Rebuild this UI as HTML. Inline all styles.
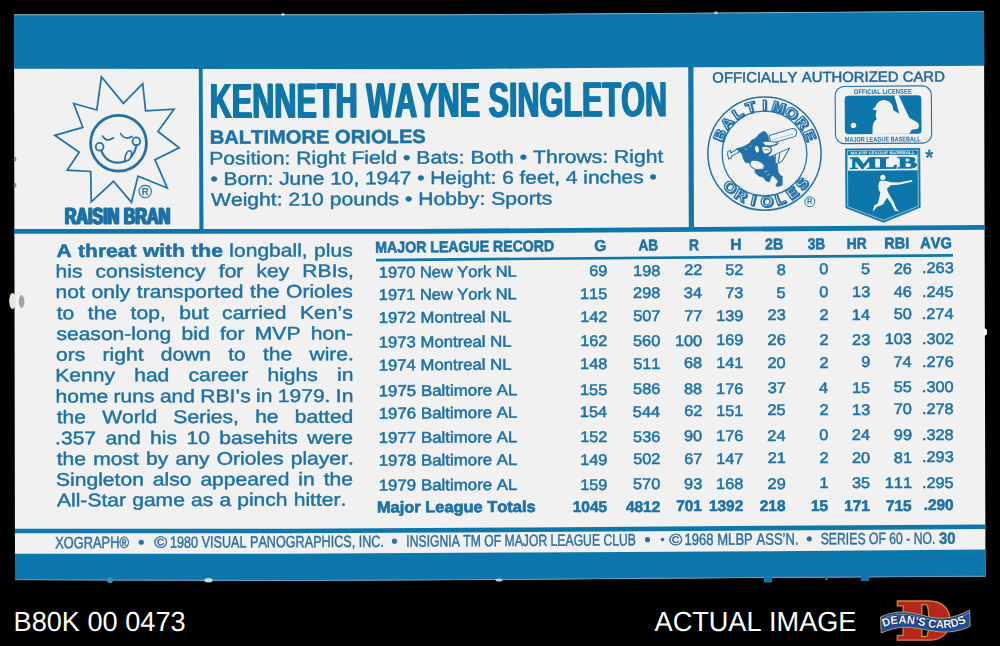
<!DOCTYPE html>
<html><head><meta charset="utf-8"><title>1980 Kellogg's Ken Singleton</title>
<style>
html,body{margin:0;padding:0;background:#000;}
body{width:1000px;height:646px;overflow:hidden;position:relative;font-family:"Liberation Sans",sans-serif;}
svg{position:absolute;left:0;top:0;display:block;}
svg text{font-family:"Liberation Sans",sans-serif;white-space:pre;font-kerning:none;text-rendering:geometricPrecision;}
</style></head><body>
<svg width="1000" height="646" viewBox="0 0 1000 646">
<defs><filter id="soft" x="0" y="0" width="1000" height="646" filterUnits="userSpaceOnUse"><feGaussianBlur stdDeviation="0.5"/></filter></defs>
<g fill="#1f72a8" filter="url(#soft)">
<polygon points="14.00,14.50 450.00,14.50 984.00,11.00 985.50,576.50 770.00,577.70 530.00,579.60 300.00,580.80 15.00,580.00" fill="#f1f1f2"/>
<polygon points="14.00,14.50 450.00,14.50 984.00,11.00 984.30,65.80 690.00,67.30 550.00,68.20 450.00,69.30 14.00,68.80" fill="#0f76ab"/>
<polygon points="14.00,229.00 420.00,229.00 985.00,225.00 985.00,229.80 420.00,233.80 14.00,233.80" fill="#0f76ab"/>
<polygon points="198.80,68.00 202.60,68.00 203.50,231.00 199.40,231.00" fill="#0f76ab"/>
<polygon points="688.20,66.50 693.40,66.50 694.00,230.00 688.80,230.00" fill="#0f76ab"/>
<polygon points="15.00,528.70 290.00,528.70 530.00,527.45 770.00,525.80 985.30,524.45 985.30,529.05 770.00,530.40 530.00,532.05 290.00,533.30 15.00,533.30" fill="#0f76ab"/>
<polygon points="15.00,553.75 280.00,553.75 530.00,552.50 770.00,551.25 985.40,549.50 985.50,576.50 770.00,577.70 530.00,579.60 300.00,580.80 15.00,580.00" fill="#0f76ab"/>
<polyline points="14.0,14.8 450.0,14.8 984.0,11.3" fill="none" stroke="#9cc6e0" stroke-width="0.8" opacity="0.8"/>
<polyline points="15.0,579.7 300.0,580.5 530.0,579.3 770.0,577.4 985.5,576.2" fill="none" stroke="#8dbbd8" stroke-width="0.8" opacity="0.7"/>
<circle cx="110" cy="580.3" r="3" fill="#3d8fc2"/>
<ellipse cx="208.5" cy="580.2" rx="4.2" ry="2.2" fill="#c8dbe6"/>
<ellipse cx="499" cy="580" rx="3.5" ry="1.5" fill="#b5cfdf"/>
<rect x="764" y="577" width="8" height="5.5" fill="#0f76ab"/>
<rect x="861" y="576" width="8" height="5" fill="#0f76ab"/>
<rect x="825" y="577" width="3" height="3" fill="#0f76ab"/>
<ellipse cx="283" cy="14.4" rx="1.6" ry="1.2" fill="#e8e4e0"/>
<ellipse cx="716" cy="12.8" rx="1.8" ry="1.4" fill="#e6c9c4"/>
<ellipse cx="12.6" cy="301" rx="3.4" ry="8" fill="#ece7dc"/>
<ellipse cx="21.6" cy="301.5" rx="2.8" ry="6.5" fill="#a3a3a1"/>
<ellipse cx="15" cy="159.2" rx="1.3" ry="2.4" fill="#8c8c8c"/>
<ellipse cx="15" cy="185.2" rx="1.3" ry="2.2" fill="#8c8c8c"/>
<ellipse cx="985.2" cy="332" rx="1.8" ry="3.5" fill="#fbfbf3"/>
<text transform="translate(208.95 118.00) rotate(-0.227) scale(0.6195 1)" font-size="49.42" font-weight="bold" fill="#0f76ab">KENNETH WAYNE SINGLETON</text>
<text transform="translate(209.75 118.00) rotate(-0.227) scale(0.6195 1)" font-size="49.42" font-weight="bold" fill="#0f76ab">KENNETH WAYNE SINGLETON</text>
<text transform="translate(210.55 118.00) rotate(-0.227) scale(0.6195 1)" font-size="49.42" font-weight="bold" fill="#0f76ab">KENNETH WAYNE SINGLETON</text>
<text transform="translate(209.65 143.75) rotate(-0.201) scale(1.0507 1)" font-size="19.19" font-weight="bold" stroke="#1f72a8" stroke-width="0.5">BALTIMORE ORIOLES</text>
<text transform="translate(209.27 164.50) rotate(-0.241) scale(1.1640 1)" font-size="18.17" stroke="#1f72a8" stroke-width="0.45">Position: Right Field • Bats: Both • Throws: Right</text>
<text transform="translate(210.42 185.00) rotate(-0.245) scale(1.1489 1)" font-size="18.17" stroke="#1f72a8" stroke-width="0.45">• Born: June 10, 1947 • Height: 6 feet, 4 inches •</text>
<text transform="translate(210.91 205.75) rotate(-0.210) scale(1.1651 1)" font-size="18.17" stroke="#1f72a8" stroke-width="0.45">Weight: 210 pounds • Hobby: Sports</text>
<text transform="translate(63.92 224.00) rotate(0.000) scale(0.6924 1)" font-size="23.26" font-weight="bold" stroke="#1f72a8" stroke-width="0.6">RAISIN BRAN</text>
<text transform="translate(64.72 224.00) rotate(0.000) scale(0.6924 1)" font-size="23.26" font-weight="bold" stroke="#1f72a8" stroke-width="0.6">RAISIN BRAN</text>
<text transform="translate(65.52 224.00) rotate(0.000) scale(0.6924 1)" font-size="23.26" font-weight="bold" stroke="#1f72a8" stroke-width="0.6">RAISIN BRAN</text>
<text transform="translate(712.29 82.50) rotate(-0.248) scale(1.0154 1)" font-size="14.68" fill="#22679d" stroke="#22679d" stroke-width="0.5">OFFICIALLY AUTHORIZED CARD</text>
<text transform="translate(56.48 257.00) rotate(-0.117) scale(1.1600 1)" font-size="18.17" stroke="#1f72a8" stroke-width="0.5" font-weight="bold">A</text>
<text transform="translate(78.01 256.96) rotate(-0.117) scale(1.1600 1)" font-size="18.17" stroke="#1f72a8" stroke-width="0.5" font-weight="bold">threat</text>
<text transform="translate(142.88 256.83) rotate(-0.117) scale(1.1600 1)" font-size="18.17" stroke="#1f72a8" stroke-width="0.5" font-weight="bold">with</text>
<text transform="translate(191.34 256.73) rotate(-0.117) scale(1.1600 1)" font-size="18.17" stroke="#1f72a8" stroke-width="0.5" font-weight="bold">the</text>
<text transform="translate(229.27 256.65) rotate(-0.117) scale(1.1600 1)" font-size="18.17" stroke="#1f72a8" stroke-width="0.45">longball,</text>
<text transform="translate(314.10 256.48) rotate(-0.117) scale(1.1600 1)" font-size="18.17" stroke="#1f72a8" stroke-width="0.45">plus</text>
<text transform="translate(55.54 277.50) rotate(-0.117) scale(1.1600 1)" font-size="18.17" stroke="#1f72a8" stroke-width="0.45">his</text>
<text transform="translate(95.58 277.42) rotate(-0.117) scale(1.1600 1)" font-size="18.17" stroke="#1f72a8" stroke-width="0.45">consistency</text>
<text transform="translate(218.78 277.17) rotate(-0.117) scale(1.1600 1)" font-size="18.17" stroke="#1f72a8" stroke-width="0.45">for</text>
<text transform="translate(256.47 277.09) rotate(-0.117) scale(1.1600 1)" font-size="18.17" stroke="#1f72a8" stroke-width="0.45">key</text>
<text transform="translate(302.37 277.00) rotate(-0.117) scale(1.1600 1)" font-size="18.17" stroke="#1f72a8" stroke-width="0.45">RBIs,</text>
<text transform="translate(55.60 298.00) rotate(-0.117) scale(1.1600 1)" font-size="18.17" stroke="#1f72a8" stroke-width="0.45">not</text>
<text transform="translate(91.53 297.93) rotate(-0.117) scale(1.1600 1)" font-size="18.17" stroke="#1f72a8" stroke-width="0.45">only</text>
<text transform="translate(136.83 297.84) rotate(-0.117) scale(1.1600 1)" font-size="18.17" stroke="#1f72a8" stroke-width="0.45">transported</text>
<text transform="translate(250.07 297.61) rotate(-0.117) scale(1.1600 1)" font-size="18.17" stroke="#1f72a8" stroke-width="0.45">the</text>
<text transform="translate(286.01 297.53) rotate(-0.117) scale(1.1600 1)" font-size="18.17" stroke="#1f72a8" stroke-width="0.45">Orioles</text>
<text transform="translate(56.68 319.25) rotate(-0.117) scale(1.1600 1)" font-size="18.17" stroke="#1f72a8" stroke-width="0.45">to</text>
<text transform="translate(87.78 319.19) rotate(-0.117) scale(1.1600 1)" font-size="18.17" stroke="#1f72a8" stroke-width="0.45">the</text>
<text transform="translate(130.60 319.10) rotate(-0.117) scale(1.1600 1)" font-size="18.17" stroke="#1f72a8" stroke-width="0.45">top,</text>
<text transform="translate(179.28 319.00) rotate(-0.117) scale(1.1600 1)" font-size="18.17" stroke="#1f72a8" stroke-width="0.45">but</text>
<text transform="translate(222.10 318.91) rotate(-0.117) scale(1.1600 1)" font-size="18.17" stroke="#1f72a8" stroke-width="0.45">carried</text>
<text transform="translate(300.04 318.76) rotate(-0.117) scale(1.1600 1)" font-size="18.17" stroke="#1f72a8" stroke-width="0.45">Ken’s</text>
<text transform="translate(56.41 340.00) rotate(-0.117) scale(1.1600 1)" font-size="18.17" stroke="#1f72a8" stroke-width="0.45">season-long</text>
<text transform="translate(181.52 339.75) rotate(-0.117) scale(1.1600 1)" font-size="18.17" stroke="#1f72a8" stroke-width="0.45">bid</text>
<text transform="translate(219.93 339.67) rotate(-0.117) scale(1.1600 1)" font-size="18.17" stroke="#1f72a8" stroke-width="0.45">for</text>
<text transform="translate(254.80 339.60) rotate(-0.117) scale(1.1600 1)" font-size="18.17" stroke="#1f72a8" stroke-width="0.45">MVP</text>
<text transform="translate(310.75 339.48) rotate(-0.117) scale(1.1600 1)" font-size="18.17" stroke="#1f72a8" stroke-width="0.45">hon-</text>
<text transform="translate(56.11 360.75) rotate(-0.117) scale(1.1600 1)" font-size="18.17" stroke="#1f72a8" stroke-width="0.45">ors</text>
<text transform="translate(102.55 360.66) rotate(-0.117) scale(1.1600 1)" font-size="18.17" stroke="#1f72a8" stroke-width="0.45">right</text>
<text transform="translate(160.70 360.54) rotate(-0.117) scale(1.1600 1)" font-size="18.17" stroke="#1f72a8" stroke-width="0.45">down</text>
<text transform="translate(228.24 360.40) rotate(-0.117) scale(1.1600 1)" font-size="18.17" stroke="#1f72a8" stroke-width="0.45">to</text>
<text transform="translate(262.97 360.33) rotate(-0.117) scale(1.1600 1)" font-size="18.17" stroke="#1f72a8" stroke-width="0.45">the</text>
<text transform="translate(309.43 360.24) rotate(-0.117) scale(1.1600 1)" font-size="18.17" stroke="#1f72a8" stroke-width="0.45">wire.</text>
<text transform="translate(55.27 381.40) rotate(-0.117) scale(1.1600 1)" font-size="18.17" stroke="#1f72a8" stroke-width="0.45">Kenny</text>
<text transform="translate(134.19 381.24) rotate(-0.117) scale(1.1600 1)" font-size="18.17" stroke="#1f72a8" stroke-width="0.45">had</text>
<text transform="translate(188.52 381.13) rotate(-0.117) scale(1.1600 1)" font-size="18.17" stroke="#1f72a8" stroke-width="0.45">career</text>
<text transform="translate(267.42 380.97) rotate(-0.117) scale(1.1600 1)" font-size="18.17" stroke="#1f72a8" stroke-width="0.45">highs</text>
<text transform="translate(336.97 380.83) rotate(-0.117) scale(1.1600 1)" font-size="18.17" stroke="#1f72a8" stroke-width="0.45">in</text>
<text transform="translate(55.54 402.50) rotate(-0.117) scale(1.1600 1)" font-size="18.17" stroke="#1f72a8" stroke-width="0.45">home</text>
<text transform="translate(113.57 402.38) rotate(-0.117) scale(1.1600 1)" font-size="18.17" stroke="#1f72a8" stroke-width="0.45">runs</text>
<text transform="translate(159.88 402.29) rotate(-0.117) scale(1.1600 1)" font-size="18.17" stroke="#1f72a8" stroke-width="0.45">and</text>
<text transform="translate(200.36 402.21) rotate(-0.117) scale(1.1600 1)" font-size="18.17" stroke="#1f72a8" stroke-width="0.45">RBI’s</text>
<text transform="translate(256.02 402.10) rotate(-0.117) scale(1.1600 1)" font-size="18.17" stroke="#1f72a8" stroke-width="0.45">in</text>
<text transform="translate(277.74 402.05) rotate(-0.117) scale(1.1600 1)" font-size="18.17" stroke="#1f72a8" stroke-width="0.45">1979.</text>
<text transform="translate(335.79 401.93) rotate(-0.117) scale(1.1600 1)" font-size="18.17" stroke="#1f72a8" stroke-width="0.45">In</text>
<text transform="translate(56.68 423.25) rotate(-0.117) scale(1.1600 1)" font-size="18.17" stroke="#1f72a8" stroke-width="0.45">the</text>
<text transform="translate(102.16 423.16) rotate(-0.117) scale(1.1600 1)" font-size="18.17" stroke="#1f72a8" stroke-width="0.45">World</text>
<text transform="translate(173.37 423.01) rotate(-0.117) scale(1.1600 1)" font-size="18.17" stroke="#1f72a8" stroke-width="0.45">Series,</text>
<text transform="translate(255.14 422.85) rotate(-0.117) scale(1.1600 1)" font-size="18.17" stroke="#1f72a8" stroke-width="0.45">he</text>
<text transform="translate(294.76 422.77) rotate(-0.117) scale(1.1600 1)" font-size="18.17" stroke="#1f72a8" stroke-width="0.45">batted</text>
<text transform="translate(55.08 444.25) rotate(-0.117) scale(1.1600 1)" font-size="18.17" stroke="#1f72a8" stroke-width="0.45">.357</text>
<text transform="translate(105.52 444.15) rotate(-0.117) scale(1.1600 1)" font-size="18.17" stroke="#1f72a8" stroke-width="0.45">and</text>
<text transform="translate(150.10 444.06) rotate(-0.117) scale(1.1600 1)" font-size="18.17" stroke="#1f72a8" stroke-width="0.45">his</text>
<text transform="translate(186.47 443.99) rotate(-0.117) scale(1.1600 1)" font-size="18.17" stroke="#1f72a8" stroke-width="0.45">10</text>
<text transform="translate(219.33 443.92) rotate(-0.117) scale(1.1600 1)" font-size="18.17" stroke="#1f72a8" stroke-width="0.45">basehits</text>
<text transform="translate(307.26 443.74) rotate(-0.117) scale(1.1600 1)" font-size="18.17" stroke="#1f72a8" stroke-width="0.45">were</text>
<text transform="translate(56.68 465.00) rotate(-0.117) scale(1.1600 1)" font-size="18.17" stroke="#1f72a8" stroke-width="0.45">the</text>
<text transform="translate(93.18 464.93) rotate(-0.117) scale(1.1600 1)" font-size="18.17" stroke="#1f72a8" stroke-width="0.45">most</text>
<text transform="translate(146.06 464.82) rotate(-0.117) scale(1.1600 1)" font-size="18.17" stroke="#1f72a8" stroke-width="0.45">by</text>
<text transform="translate(175.52 464.76) rotate(-0.117) scale(1.1600 1)" font-size="18.17" stroke="#1f72a8" stroke-width="0.45">any</text>
<text transform="translate(216.71 464.68) rotate(-0.117) scale(1.1600 1)" font-size="18.17" stroke="#1f72a8" stroke-width="0.45">Orioles</text>
<text transform="translate(290.67 464.52) rotate(-0.117) scale(1.1600 1)" font-size="18.17" stroke="#1f72a8" stroke-width="0.45">player.</text>
<text transform="translate(56.04 485.75) rotate(-0.117) scale(1.1600 1)" font-size="18.17" stroke="#1f72a8" stroke-width="0.45">Singleton</text>
<text transform="translate(152.82 485.56) rotate(-0.117) scale(1.1600 1)" font-size="18.17" stroke="#1f72a8" stroke-width="0.45">also</text>
<text transform="translate(200.38 485.46) rotate(-0.117) scale(1.1600 1)" font-size="18.17" stroke="#1f72a8" stroke-width="0.45">appeared</text>
<text transform="translate(298.34 485.26) rotate(-0.117) scale(1.1600 1)" font-size="18.17" stroke="#1f72a8" stroke-width="0.45">in</text>
<text transform="translate(323.64 485.21) rotate(-0.117) scale(1.1600 1)" font-size="18.17" stroke="#1f72a8" stroke-width="0.45">the</text>
<text transform="translate(56.96 506.25) rotate(-0.117) scale(1.1600 1)" font-size="18.17" stroke="#1f72a8" stroke-width="0.45">All-Star</text>
<text transform="translate(132.17 506.10) rotate(-0.117) scale(1.1600 1)" font-size="18.17" stroke="#1f72a8" stroke-width="0.45">game</text>
<text transform="translate(191.00 505.98) rotate(-0.117) scale(1.1600 1)" font-size="18.17" stroke="#1f72a8" stroke-width="0.45">as</text>
<text transform="translate(219.38 505.92) rotate(-0.117) scale(1.1600 1)" font-size="18.17" stroke="#1f72a8" stroke-width="0.45">a</text>
<text transform="translate(237.22 505.88) rotate(-0.117) scale(1.1600 1)" font-size="18.17" stroke="#1f72a8" stroke-width="0.45">pinch</text>
<text transform="translate(293.71 505.77) rotate(-0.117) scale(1.1600 1)" font-size="18.17" stroke="#1f72a8" stroke-width="0.45">hitter.</text>
<text transform="translate(375.35 252.70) rotate(-0.461) scale(0.9001 1)" font-size="15.70" font-weight="bold" stroke="#1f72a8" stroke-width="0.65">MAJOR LEAGUE RECORD</text>
<text transform="translate(594.36 250.94) rotate(-0.461) scale(0.9912 1)" font-size="15.70" font-weight="bold" stroke="#1f72a8" stroke-width="0.6">G</text>
<text transform="translate(638.41 250.59) rotate(-0.461) scale(0.8693 1)" font-size="15.70" font-weight="bold" stroke="#1f72a8" stroke-width="0.6">AB</text>
<text transform="translate(689.08 250.17) rotate(-0.461) scale(0.8781 1)" font-size="15.70" font-weight="bold" stroke="#1f72a8" stroke-width="0.6">R</text>
<text transform="translate(730.20 249.84) rotate(-0.461) scale(1.0023 1)" font-size="15.70" font-weight="bold" stroke="#1f72a8" stroke-width="0.6">H</text>
<text transform="translate(765.00 249.57) rotate(-0.461) scale(0.9144 1)" font-size="15.70" font-weight="bold" stroke="#1f72a8" stroke-width="0.6">2B</text>
<text transform="translate(807.68 249.22) rotate(-0.461) scale(0.8792 1)" font-size="15.70" font-weight="bold" stroke="#1f72a8" stroke-width="0.6">3B</text>
<text transform="translate(846.77 248.90) rotate(-0.461) scale(0.8826 1)" font-size="15.70" font-weight="bold" stroke="#1f72a8" stroke-width="0.6">HR</text>
<text transform="translate(884.33 248.60) rotate(-0.461) scale(0.9265 1)" font-size="15.70" font-weight="bold" stroke="#1f72a8" stroke-width="0.6">RBI</text>
<text transform="translate(920.13 248.32) rotate(-0.461) scale(0.9341 1)" font-size="15.70" font-weight="bold" stroke="#1f72a8" stroke-width="0.6">AVG</text>
<polygon points="376.00,258.70 953.00,254.00 953.00,256.75 376.00,261.40" fill="#0f76ab"/>
<text transform="translate(378.75 277.80) rotate(-0.471) scale(1.0478 1)" font-size="15.70" stroke="#1f72a8" stroke-width="0.55">1970 New York NL</text>
<text transform="translate(589.21 276.07) rotate(0.000) scale(1.0600 1)" font-size="15.41" stroke="#1f72a8" stroke-width="0.55">69</text>
<text transform="translate(633.06 275.71) rotate(0.000) scale(1.0600 1)" font-size="15.41" stroke="#1f72a8" stroke-width="0.55">198</text>
<text transform="translate(684.16 275.29) rotate(0.000) scale(1.0600 1)" font-size="15.41" stroke="#1f72a8" stroke-width="0.55">22</text>
<text transform="translate(725.26 274.96) rotate(0.000) scale(1.0600 1)" font-size="15.41" stroke="#1f72a8" stroke-width="0.55">52</text>
<text transform="translate(776.63 274.54) rotate(0.000) scale(1.0600 1)" font-size="15.41" stroke="#1f72a8" stroke-width="0.55">8</text>
<text transform="translate(819.26 274.19) rotate(0.000) scale(1.0600 1)" font-size="15.41" stroke="#1f72a8" stroke-width="0.55">0</text>
<text transform="translate(861.10 273.84) rotate(0.000) scale(1.0600 1)" font-size="15.41" stroke="#1f72a8" stroke-width="0.55">5</text>
<text transform="translate(893.75 273.57) rotate(0.000) scale(1.0600 1)" font-size="15.41" stroke="#1f72a8" stroke-width="0.55">26</text>
<text transform="translate(921.93 273.34) rotate(0.000) scale(1.0600 1)" font-size="15.41" stroke="#1f72a8" stroke-width="0.55">.263</text>
<text transform="translate(378.75 300.00) rotate(-0.358) scale(1.0478 1)" font-size="15.70" stroke="#1f72a8" stroke-width="0.55">1971 New York NL</text>
<text transform="translate(580.04 298.74) rotate(0.000) scale(1.0600 1)" font-size="15.41" stroke="#1f72a8" stroke-width="0.55">115</text>
<text transform="translate(633.06 298.41) rotate(0.000) scale(1.0600 1)" font-size="15.41" stroke="#1f72a8" stroke-width="0.55">298</text>
<text transform="translate(683.81 298.10) rotate(0.000) scale(1.0600 1)" font-size="15.41" stroke="#1f72a8" stroke-width="0.55">34</text>
<text transform="translate(725.15 297.84) rotate(0.000) scale(1.0600 1)" font-size="15.41" stroke="#1f72a8" stroke-width="0.55">73</text>
<text transform="translate(776.60 297.52) rotate(0.000) scale(1.0600 1)" font-size="15.41" stroke="#1f72a8" stroke-width="0.55">5</text>
<text transform="translate(819.26 297.25) rotate(0.000) scale(1.0600 1)" font-size="15.41" stroke="#1f72a8" stroke-width="0.55">0</text>
<text transform="translate(852.05 297.04) rotate(0.000) scale(1.0600 1)" font-size="15.41" stroke="#1f72a8" stroke-width="0.55">13</text>
<text transform="translate(893.75 296.79) rotate(0.000) scale(1.0600 1)" font-size="15.41" stroke="#1f72a8" stroke-width="0.55">46</text>
<text transform="translate(921.90 296.60) rotate(0.000) scale(1.0600 1)" font-size="15.41" stroke="#1f72a8" stroke-width="0.55">.245</text>
<text transform="translate(378.73 323.00) rotate(-0.409) scale(1.0645 1)" font-size="15.70" stroke="#1f72a8" stroke-width="0.55">1972 Montreal NL</text>
<text transform="translate(580.17 321.56) rotate(0.000) scale(1.0600 1)" font-size="15.41" stroke="#1f72a8" stroke-width="0.55">142</text>
<text transform="translate(633.17 321.19) rotate(0.000) scale(1.0600 1)" font-size="15.41" stroke="#1f72a8" stroke-width="0.55">507</text>
<text transform="translate(684.16 320.82) rotate(0.000) scale(1.0600 1)" font-size="15.41" stroke="#1f72a8" stroke-width="0.55">77</text>
<text transform="translate(716.13 320.59) rotate(0.000) scale(1.0600 1)" font-size="15.41" stroke="#1f72a8" stroke-width="0.55">139</text>
<text transform="translate(767.55 320.23) rotate(0.000) scale(1.0600 1)" font-size="15.41" stroke="#1f72a8" stroke-width="0.55">23</text>
<text transform="translate(819.44 319.86) rotate(0.000) scale(1.0600 1)" font-size="15.41" stroke="#1f72a8" stroke-width="0.55">2</text>
<text transform="translate(851.81 319.62) rotate(0.000) scale(1.0600 1)" font-size="15.41" stroke="#1f72a8" stroke-width="0.55">14</text>
<text transform="translate(893.67 319.33) rotate(0.000) scale(1.0600 1)" font-size="15.41" stroke="#1f72a8" stroke-width="0.55">50</text>
<text transform="translate(921.69 319.12) rotate(0.000) scale(1.0600 1)" font-size="15.41" stroke="#1f72a8" stroke-width="0.55">.274</text>
<text transform="translate(378.73 347.50) rotate(-0.348) scale(1.0645 1)" font-size="15.70" stroke="#1f72a8" stroke-width="0.55">1973 Montreal NL</text>
<text transform="translate(580.17 346.28) rotate(0.000) scale(1.0600 1)" font-size="15.41" stroke="#1f72a8" stroke-width="0.55">162</text>
<text transform="translate(632.99 345.96) rotate(0.000) scale(1.0600 1)" font-size="15.41" stroke="#1f72a8" stroke-width="0.55">560</text>
<text transform="translate(674.89 345.70) rotate(0.000) scale(1.0600 1)" font-size="15.41" stroke="#1f72a8" stroke-width="0.55">100</text>
<text transform="translate(716.13 345.45) rotate(0.000) scale(1.0600 1)" font-size="15.41" stroke="#1f72a8" stroke-width="0.55">169</text>
<text transform="translate(767.55 345.14) rotate(0.000) scale(1.0600 1)" font-size="15.41" stroke="#1f72a8" stroke-width="0.55">26</text>
<text transform="translate(819.44 344.83) rotate(0.000) scale(1.0600 1)" font-size="15.41" stroke="#1f72a8" stroke-width="0.55">2</text>
<text transform="translate(852.05 344.63) rotate(0.000) scale(1.0600 1)" font-size="15.41" stroke="#1f72a8" stroke-width="0.55">23</text>
<text transform="translate(884.67 344.43) rotate(0.000) scale(1.0600 1)" font-size="15.41" stroke="#1f72a8" stroke-width="0.55">103</text>
<text transform="translate(922.04 344.20) rotate(0.000) scale(1.0600 1)" font-size="15.41" stroke="#1f72a8" stroke-width="0.55">.302</text>
<text transform="translate(378.73 370.50) rotate(-0.389) scale(1.0645 1)" font-size="15.70" stroke="#1f72a8" stroke-width="0.55">1974 Montreal NL</text>
<text transform="translate(580.06 369.13) rotate(0.000) scale(1.0600 1)" font-size="15.41" stroke="#1f72a8" stroke-width="0.55">148</text>
<text transform="translate(633.15 368.78) rotate(0.000) scale(1.0600 1)" font-size="15.41" stroke="#1f72a8" stroke-width="0.55">511</text>
<text transform="translate(684.04 368.43) rotate(0.000) scale(1.0600 1)" font-size="15.41" stroke="#1f72a8" stroke-width="0.55">68</text>
<text transform="translate(716.15 368.21) rotate(0.000) scale(1.0600 1)" font-size="15.41" stroke="#1f72a8" stroke-width="0.55">141</text>
<text transform="translate(767.47 367.87) rotate(0.000) scale(1.0600 1)" font-size="15.41" stroke="#1f72a8" stroke-width="0.55">20</text>
<text transform="translate(819.44 367.51) rotate(0.000) scale(1.0600 1)" font-size="15.41" stroke="#1f72a8" stroke-width="0.55">2</text>
<text transform="translate(861.19 367.23) rotate(0.000) scale(1.0600 1)" font-size="15.41" stroke="#1f72a8" stroke-width="0.55">9</text>
<text transform="translate(893.51 367.01) rotate(0.000) scale(1.0600 1)" font-size="15.41" stroke="#1f72a8" stroke-width="0.55">74</text>
<text transform="translate(921.93 366.81) rotate(0.000) scale(1.0600 1)" font-size="15.41" stroke="#1f72a8" stroke-width="0.55">.276</text>
<text transform="translate(378.71 396.25) rotate(-0.435) scale(1.0751 1)" font-size="15.70" stroke="#1f72a8" stroke-width="0.55">1975 Baltimore AL</text>
<text transform="translate(580.04 394.72) rotate(0.000) scale(1.0600 1)" font-size="15.41" stroke="#1f72a8" stroke-width="0.55">155</text>
<text transform="translate(633.07 394.32) rotate(0.000) scale(1.0600 1)" font-size="15.41" stroke="#1f72a8" stroke-width="0.55">586</text>
<text transform="translate(684.04 393.94) rotate(0.000) scale(1.0600 1)" font-size="15.41" stroke="#1f72a8" stroke-width="0.55">88</text>
<text transform="translate(716.07 393.69) rotate(0.000) scale(1.0600 1)" font-size="15.41" stroke="#1f72a8" stroke-width="0.55">176</text>
<text transform="translate(767.66 393.30) rotate(0.000) scale(1.0600 1)" font-size="15.41" stroke="#1f72a8" stroke-width="0.55">37</text>
<text transform="translate(819.10 392.91) rotate(0.000) scale(1.0600 1)" font-size="15.41" stroke="#1f72a8" stroke-width="0.55">4</text>
<text transform="translate(852.02 392.66) rotate(0.000) scale(1.0600 1)" font-size="15.41" stroke="#1f72a8" stroke-width="0.55">15</text>
<text transform="translate(893.72 392.35) rotate(0.000) scale(1.0600 1)" font-size="15.41" stroke="#1f72a8" stroke-width="0.55">55</text>
<text transform="translate(921.85 392.13) rotate(0.000) scale(1.0600 1)" font-size="15.41" stroke="#1f72a8" stroke-width="0.55">.300</text>
<text transform="translate(378.71 418.75) rotate(-0.496) scale(1.0751 1)" font-size="15.70" stroke="#1f72a8" stroke-width="0.55">1976 Baltimore AL</text>
<text transform="translate(579.83 417.01) rotate(0.000) scale(1.0600 1)" font-size="15.41" stroke="#1f72a8" stroke-width="0.55">154</text>
<text transform="translate(632.83 416.55) rotate(0.000) scale(1.0600 1)" font-size="15.41" stroke="#1f72a8" stroke-width="0.55">544</text>
<text transform="translate(684.16 416.11) rotate(0.000) scale(1.0600 1)" font-size="15.41" stroke="#1f72a8" stroke-width="0.55">62</text>
<text transform="translate(716.15 415.83) rotate(0.000) scale(1.0600 1)" font-size="15.41" stroke="#1f72a8" stroke-width="0.55">151</text>
<text transform="translate(767.52 415.39) rotate(0.000) scale(1.0600 1)" font-size="15.41" stroke="#1f72a8" stroke-width="0.55">25</text>
<text transform="translate(819.44 414.94) rotate(0.000) scale(1.0600 1)" font-size="15.41" stroke="#1f72a8" stroke-width="0.55">2</text>
<text transform="translate(852.05 414.65) rotate(0.000) scale(1.0600 1)" font-size="15.41" stroke="#1f72a8" stroke-width="0.55">13</text>
<text transform="translate(893.67 414.29) rotate(0.000) scale(1.0600 1)" font-size="15.41" stroke="#1f72a8" stroke-width="0.55">70</text>
<text transform="translate(921.92 414.04) rotate(0.000) scale(1.0600 1)" font-size="15.41" stroke="#1f72a8" stroke-width="0.55">.278</text>
<text transform="translate(378.71 443.00) rotate(-0.338) scale(1.0751 1)" font-size="15.70" stroke="#1f72a8" stroke-width="0.55">1977 Baltimore AL</text>
<text transform="translate(580.17 441.81) rotate(0.000) scale(1.0600 1)" font-size="15.41" stroke="#1f72a8" stroke-width="0.55">152</text>
<text transform="translate(633.07 441.50) rotate(0.000) scale(1.0600 1)" font-size="15.41" stroke="#1f72a8" stroke-width="0.55">536</text>
<text transform="translate(683.97 441.20) rotate(0.000) scale(1.0600 1)" font-size="15.41" stroke="#1f72a8" stroke-width="0.55">90</text>
<text transform="translate(716.07 441.01) rotate(0.000) scale(1.0600 1)" font-size="15.41" stroke="#1f72a8" stroke-width="0.55">176</text>
<text transform="translate(767.31 440.71) rotate(0.000) scale(1.0600 1)" font-size="15.41" stroke="#1f72a8" stroke-width="0.55">24</text>
<text transform="translate(819.26 440.41) rotate(0.000) scale(1.0600 1)" font-size="15.41" stroke="#1f72a8" stroke-width="0.55">0</text>
<text transform="translate(851.81 440.21) rotate(0.000) scale(1.0600 1)" font-size="15.41" stroke="#1f72a8" stroke-width="0.55">24</text>
<text transform="translate(893.81 439.97) rotate(0.000) scale(1.0600 1)" font-size="15.41" stroke="#1f72a8" stroke-width="0.55">99</text>
<text transform="translate(921.92 439.80) rotate(0.000) scale(1.0600 1)" font-size="15.41" stroke="#1f72a8" stroke-width="0.55">.328</text>
<text transform="translate(378.71 465.75) rotate(-0.353) scale(1.0751 1)" font-size="15.70" stroke="#1f72a8" stroke-width="0.55">1978 Baltimore AL</text>
<text transform="translate(580.13 464.51) rotate(0.000) scale(1.0600 1)" font-size="15.41" stroke="#1f72a8" stroke-width="0.55">149</text>
<text transform="translate(633.17 464.19) rotate(0.000) scale(1.0600 1)" font-size="15.41" stroke="#1f72a8" stroke-width="0.55">502</text>
<text transform="translate(684.16 463.87) rotate(0.000) scale(1.0600 1)" font-size="15.41" stroke="#1f72a8" stroke-width="0.55">67</text>
<text transform="translate(716.17 463.67) rotate(0.000) scale(1.0600 1)" font-size="15.41" stroke="#1f72a8" stroke-width="0.55">147</text>
<text transform="translate(767.63 463.36) rotate(0.000) scale(1.0600 1)" font-size="15.41" stroke="#1f72a8" stroke-width="0.55">21</text>
<text transform="translate(819.44 463.04) rotate(0.000) scale(1.0600 1)" font-size="15.41" stroke="#1f72a8" stroke-width="0.55">2</text>
<text transform="translate(851.97 462.84) rotate(0.000) scale(1.0600 1)" font-size="15.41" stroke="#1f72a8" stroke-width="0.55">20</text>
<text transform="translate(893.83 462.58) rotate(0.000) scale(1.0600 1)" font-size="15.41" stroke="#1f72a8" stroke-width="0.55">81</text>
<text transform="translate(921.93 462.40) rotate(0.000) scale(1.0600 1)" font-size="15.41" stroke="#1f72a8" stroke-width="0.55">.293</text>
<text transform="translate(378.71 490.50) rotate(-0.276) scale(1.0751 1)" font-size="15.70" stroke="#1f72a8" stroke-width="0.55">1979 Baltimore AL</text>
<text transform="translate(580.13 489.53) rotate(0.000) scale(1.0600 1)" font-size="15.41" stroke="#1f72a8" stroke-width="0.55">159</text>
<text transform="translate(632.99 489.28) rotate(0.000) scale(1.0600 1)" font-size="15.41" stroke="#1f72a8" stroke-width="0.55">570</text>
<text transform="translate(684.05 489.03) rotate(0.000) scale(1.0600 1)" font-size="15.41" stroke="#1f72a8" stroke-width="0.55">93</text>
<text transform="translate(716.06 488.87) rotate(0.000) scale(1.0600 1)" font-size="15.41" stroke="#1f72a8" stroke-width="0.55">168</text>
<text transform="translate(767.61 488.63) rotate(0.000) scale(1.0600 1)" font-size="15.41" stroke="#1f72a8" stroke-width="0.55">29</text>
<text transform="translate(819.41 488.38) rotate(0.000) scale(1.0600 1)" font-size="15.41" stroke="#1f72a8" stroke-width="0.55">1</text>
<text transform="translate(852.02 488.22) rotate(0.000) scale(1.0600 1)" font-size="15.41" stroke="#1f72a8" stroke-width="0.55">35</text>
<text transform="translate(884.75 488.06) rotate(0.000) scale(1.0600 1)" font-size="15.41" stroke="#1f72a8" stroke-width="0.55">111</text>
<text transform="translate(921.90 487.88) rotate(0.000) scale(1.0600 1)" font-size="15.41" stroke="#1f72a8" stroke-width="0.55">.295</text>
<text transform="translate(376.90 512.51) rotate(-0.215) scale(1.0461 1)" font-size="15.70" font-weight="bold" stroke="#1f72a8" stroke-width="0.7">Major League Totals</text>
<text transform="translate(572.75 511.77) rotate(0.000) scale(1.0000 1)" font-size="15.41" font-weight="bold" stroke="#1f72a8" stroke-width="0.6">1045</text>
<text transform="translate(625.94 511.58) rotate(0.000) scale(1.0000 1)" font-size="15.41" font-weight="bold" stroke="#1f72a8" stroke-width="0.6">4812</text>
<text transform="translate(676.22 511.39) rotate(0.000) scale(1.0000 1)" font-size="15.41" font-weight="bold" stroke="#1f72a8" stroke-width="0.6">701</text>
<text transform="translate(708.94 511.26) rotate(0.000) scale(1.0000 1)" font-size="15.41" font-weight="bold" stroke="#1f72a8" stroke-width="0.6">1392</text>
<text transform="translate(759.77 511.07) rotate(0.000) scale(1.0000 1)" font-size="15.41" font-weight="bold" stroke="#1f72a8" stroke-width="0.6">218</text>
<text transform="translate(810.99 510.88) rotate(0.000) scale(1.0000 1)" font-size="15.41" font-weight="bold" stroke="#1f72a8" stroke-width="0.6">15</text>
<text transform="translate(844.22 510.76) rotate(0.000) scale(1.0000 1)" font-size="15.41" font-weight="bold" stroke="#1f72a8" stroke-width="0.6">171</text>
<text transform="translate(885.92 510.60) rotate(0.000) scale(1.0000 1)" font-size="15.41" font-weight="bold" stroke="#1f72a8" stroke-width="0.6">715</text>
<text transform="translate(923.65 510.46) rotate(0.000) scale(1.0000 1)" font-size="15.41" font-weight="bold" stroke="#1f72a8" stroke-width="0.6">.290</text>
<text transform="translate(55.21 548.25) rotate(-0.249) scale(0.7895 1)" font-size="16.28" fill="#2c6fa3" stroke="#2c6fa3" stroke-width="0.45">XOGRAPH®</text>
<text transform="translate(154.23 547.82) rotate(-0.249) scale(1.0875 1)" font-size="16.28" fill="#2c6fa3" stroke="#2c6fa3" stroke-width="0.45">©</text>
<text transform="translate(170.04 547.75) rotate(-0.249) scale(0.7760 1)" font-size="16.28" fill="#2c6fa3" stroke="#2c6fa3" stroke-width="0.45">1980 VISUAL PANOGRAPHICS, INC.</text>
<text transform="translate(406.37 546.70) rotate(-0.348) scale(0.7493 1)" font-size="16.28" fill="#2c6fa3" stroke="#2c6fa3" stroke-width="0.45">INSIGNIA TM OF MAJOR LEAGUE CLUB</text>
<text transform="translate(669.23 545.14) rotate(-0.295) scale(1.0875 1)" font-size="16.28" fill="#2c6fa3" stroke="#2c6fa3" stroke-width="0.45">©</text>
<text transform="translate(684.50 545.06) rotate(-0.295) scale(0.8038 1)" font-size="16.28" fill="#2c6fa3" stroke="#2c6fa3" stroke-width="0.45">1968 MLBP ASS’N.</text>
<text transform="translate(820.69 544.36) rotate(-0.295) scale(0.7517 1)" font-size="16.28" fill="#2c6fa3" stroke="#2c6fa3" stroke-width="0.45">SERIES OF 60 - NO.</text>
<text transform="translate(938.91 543.75) rotate(-0.295) scale(0.9229 1)" font-size="16.28" font-weight="bold" fill="#2c6fa3" stroke="#2c6fa3" stroke-width="0.45">30</text>
<circle cx="141.25" cy="542.27" r="2.6" fill="#2c6fa3"/>
<circle cx="394.50" cy="541.17" r="2.6" fill="#2c6fa3"/>
<circle cx="647.50" cy="539.66" r="2.6" fill="#2c6fa3"/>
<circle cx="662.50" cy="539.58" r="1.8" fill="#2c6fa3"/>
<circle cx="809.25" cy="538.82" r="2.6" fill="#2c6fa3"/>
<polygon points="101.4,76.8 123.4,103.4 142.7,83.7 145.6,110.8 174.0,109.2 157.9,131.5 179.2,147.9 155.0,159.6 167.2,188.0 138.0,176.1 131.5,202.3 113.5,181.3 91.3,201.9 90.7,171.5 67.2,170.2 79.2,152.3 54.8,135.3 82.8,127.3 73.7,103.5 96.8,110.0" fill="none" stroke="#2272a9" stroke-width="1.75" stroke-linejoin="miter"/>
<circle cx="118.5" cy="143.3" r="27.9" fill="none" stroke="#2272a9" stroke-width="2.8"/>
<path d="M102.6,136.2 q4.2,6.6 11,1.6 M120.6,133.6 q4.4,7 11.4,2.8" fill="none" stroke="#2272a9" stroke-width="1.7" stroke-linecap="round"/>
<circle cx="99.6" cy="146.8" r="3.9" fill="none" stroke="#2272a9" stroke-width="1.8"/>
<circle cx="136.3" cy="141.3" r="3.9" fill="none" stroke="#2272a9" stroke-width="1.8"/>
<path d="M101.3,150.4 C104.5,160.5 113.5,163.8 121.5,162.3 C129.5,160.8 135.0,153.5 136.6,145.2" fill="none" stroke="#2272a9" stroke-width="2.1" stroke-linecap="round"/>
<ellipse cx="128.3" cy="155.8" rx="2.7" ry="5.2" transform="rotate(22 128.3 155.8)" fill="#f1f1f2" stroke="#2272a9" stroke-width="1.6"/>
<circle cx="145.2" cy="191.6" r="6.2" fill="none" stroke="#2272a9" stroke-width="1.1"/>
<text transform="translate(141.67 195.00) rotate(0.000) scale(0.9290 1)" font-size="10.17" font-weight="bold" fill="#2272a9">R</text>
<circle cx="764.5" cy="153.6" r="56.6" fill="none" stroke="#2272a9" stroke-width="1.5"/>
<circle cx="764.5" cy="153.6" r="42.4" fill="none" stroke="#2272a9" stroke-width="1.3"/>
<text transform="translate(724.97 137.67) rotate(-67.50) scale(1.120 1)" text-anchor="middle" font-size="14.4" font-weight="bold" fill="#2272a9" stroke="#2272a9" stroke-width="1.50" stroke-linejoin="round">B</text>
<text transform="translate(731.55 126.69) rotate(-50.62) scale(1.120 1)" text-anchor="middle" font-size="14.4" font-weight="bold" fill="#2272a9" stroke="#2272a9" stroke-width="1.50" stroke-linejoin="round">A</text>
<text transform="translate(741.03 118.10) rotate(-33.75) scale(1.120 1)" text-anchor="middle" font-size="14.4" font-weight="bold" fill="#2272a9" stroke="#2272a9" stroke-width="1.50" stroke-linejoin="round">L</text>
<text transform="translate(752.59 112.63) rotate(-16.88) scale(1.120 1)" text-anchor="middle" font-size="14.4" font-weight="bold" fill="#2272a9" stroke="#2272a9" stroke-width="1.50" stroke-linejoin="round">T</text>
<text transform="translate(765.25 110.75) rotate(0.00) scale(1.120 1)" text-anchor="middle" font-size="14.4" font-weight="bold" fill="#2272a9" stroke="#2272a9" stroke-width="1.50" stroke-linejoin="round">I</text>
<text transform="translate(777.91 112.63) rotate(16.88) scale(1.120 1)" text-anchor="middle" font-size="14.4" font-weight="bold" fill="#2272a9" stroke="#2272a9" stroke-width="1.50" stroke-linejoin="round">M</text>
<text transform="translate(789.47 118.10) rotate(33.75) scale(1.120 1)" text-anchor="middle" font-size="14.4" font-weight="bold" fill="#2272a9" stroke="#2272a9" stroke-width="1.50" stroke-linejoin="round">O</text>
<text transform="translate(798.95 126.69) rotate(50.62) scale(1.120 1)" text-anchor="middle" font-size="14.4" font-weight="bold" fill="#2272a9" stroke="#2272a9" stroke-width="1.50" stroke-linejoin="round">R</text>
<text transform="translate(805.53 137.67) rotate(67.50) scale(1.120 1)" text-anchor="middle" font-size="14.4" font-weight="bold" fill="#2272a9" stroke="#2272a9" stroke-width="1.50" stroke-linejoin="round">E</text>
<text transform="translate(724.22 136.92) rotate(-67.50) scale(1.120 1)" text-anchor="middle" font-size="14.4" font-weight="bold" fill="#f1f1f2" stroke="#2272a9" stroke-width="1.15" stroke-linejoin="round">B</text>
<text transform="translate(730.80 125.94) rotate(-50.62) scale(1.120 1)" text-anchor="middle" font-size="14.4" font-weight="bold" fill="#f1f1f2" stroke="#2272a9" stroke-width="1.15" stroke-linejoin="round">A</text>
<text transform="translate(740.28 117.35) rotate(-33.75) scale(1.120 1)" text-anchor="middle" font-size="14.4" font-weight="bold" fill="#f1f1f2" stroke="#2272a9" stroke-width="1.15" stroke-linejoin="round">L</text>
<text transform="translate(751.84 111.88) rotate(-16.88) scale(1.120 1)" text-anchor="middle" font-size="14.4" font-weight="bold" fill="#f1f1f2" stroke="#2272a9" stroke-width="1.15" stroke-linejoin="round">T</text>
<text transform="translate(764.50 110.00) rotate(0.00) scale(1.120 1)" text-anchor="middle" font-size="14.4" font-weight="bold" fill="#f1f1f2" stroke="#2272a9" stroke-width="1.15" stroke-linejoin="round">I</text>
<text transform="translate(777.16 111.88) rotate(16.88) scale(1.120 1)" text-anchor="middle" font-size="14.4" font-weight="bold" fill="#f1f1f2" stroke="#2272a9" stroke-width="1.15" stroke-linejoin="round">M</text>
<text transform="translate(788.72 117.35) rotate(33.75) scale(1.120 1)" text-anchor="middle" font-size="14.4" font-weight="bold" fill="#f1f1f2" stroke="#2272a9" stroke-width="1.15" stroke-linejoin="round">O</text>
<text transform="translate(798.20 125.94) rotate(50.62) scale(1.120 1)" text-anchor="middle" font-size="14.4" font-weight="bold" fill="#f1f1f2" stroke="#2272a9" stroke-width="1.15" stroke-linejoin="round">R</text>
<text transform="translate(804.78 136.92) rotate(67.50) scale(1.120 1)" text-anchor="middle" font-size="14.4" font-weight="bold" fill="#f1f1f2" stroke="#2272a9" stroke-width="1.15" stroke-linejoin="round">E</text>
<text transform="translate(727.12 191.17) rotate(46.00) scale(1.120 1)" text-anchor="middle" font-size="14.4" font-weight="bold" fill="#2272a9" stroke="#2272a9" stroke-width="1.50" stroke-linejoin="round">O</text>
<text transform="translate(738.95 200.36) rotate(29.75) scale(1.120 1)" text-anchor="middle" font-size="14.4" font-weight="bold" fill="#2272a9" stroke="#2272a9" stroke-width="1.50" stroke-linejoin="round">R</text>
<text transform="translate(752.88 205.89) rotate(13.50) scale(1.120 1)" text-anchor="middle" font-size="14.4" font-weight="bold" fill="#2272a9" stroke="#2272a9" stroke-width="1.50" stroke-linejoin="round">I</text>
<text transform="translate(767.79 207.29) rotate(-2.75) scale(1.120 1)" text-anchor="middle" font-size="14.4" font-weight="bold" fill="#2272a9" stroke="#2272a9" stroke-width="1.50" stroke-linejoin="round">O</text>
<text transform="translate(782.51 204.46) rotate(-19.00) scale(1.120 1)" text-anchor="middle" font-size="14.4" font-weight="bold" fill="#2272a9" stroke="#2272a9" stroke-width="1.50" stroke-linejoin="round">L</text>
<text transform="translate(795.84 197.63) rotate(-35.25) scale(1.120 1)" text-anchor="middle" font-size="14.4" font-weight="bold" fill="#2272a9" stroke="#2272a9" stroke-width="1.50" stroke-linejoin="round">E</text>
<text transform="translate(806.73 187.34) rotate(-51.50) scale(1.120 1)" text-anchor="middle" font-size="14.4" font-weight="bold" fill="#2272a9" stroke="#2272a9" stroke-width="1.50" stroke-linejoin="round">S</text>
<text transform="translate(726.37 190.42) rotate(46.00) scale(1.120 1)" text-anchor="middle" font-size="14.4" font-weight="bold" fill="#f1f1f2" stroke="#2272a9" stroke-width="1.15" stroke-linejoin="round">O</text>
<text transform="translate(738.20 199.61) rotate(29.75) scale(1.120 1)" text-anchor="middle" font-size="14.4" font-weight="bold" fill="#f1f1f2" stroke="#2272a9" stroke-width="1.15" stroke-linejoin="round">R</text>
<text transform="translate(752.13 205.14) rotate(13.50) scale(1.120 1)" text-anchor="middle" font-size="14.4" font-weight="bold" fill="#f1f1f2" stroke="#2272a9" stroke-width="1.15" stroke-linejoin="round">I</text>
<text transform="translate(767.04 206.54) rotate(-2.75) scale(1.120 1)" text-anchor="middle" font-size="14.4" font-weight="bold" fill="#f1f1f2" stroke="#2272a9" stroke-width="1.15" stroke-linejoin="round">O</text>
<text transform="translate(781.76 203.71) rotate(-19.00) scale(1.120 1)" text-anchor="middle" font-size="14.4" font-weight="bold" fill="#f1f1f2" stroke="#2272a9" stroke-width="1.15" stroke-linejoin="round">L</text>
<text transform="translate(795.09 196.88) rotate(-35.25) scale(1.120 1)" text-anchor="middle" font-size="14.4" font-weight="bold" fill="#f1f1f2" stroke="#2272a9" stroke-width="1.15" stroke-linejoin="round">E</text>
<text transform="translate(805.98 186.59) rotate(-51.50) scale(1.120 1)" text-anchor="middle" font-size="14.4" font-weight="bold" fill="#f1f1f2" stroke="#2272a9" stroke-width="1.15" stroke-linejoin="round">S</text>
<circle cx="809.8" cy="201.8" r="5.0" fill="none" stroke="#2272a9" stroke-width="1.0"/>
<text transform="translate(807.10 204.40) rotate(0.000) scale(0.9097 1)" font-size="8.14" font-weight="bold" fill="#2272a9">R</text>
<g transform="translate(730 125) scale(0.1006)">
<path d="M-22,262 Q-30,300 -12,338 L14,328 L12,310 L90,270 L75,236 L8,278 L4,254 Z" fill="#f1f1f2" stroke="#2272a9" stroke-width="10" stroke-linejoin="round"/>
<path d="M392,104 L612,36 Q652,30 662,68 Q668,104 634,118 L404,186 Z" fill="#f1f1f2" stroke="#2272a9" stroke-width="10" stroke-linejoin="round"/>
<path d="M420,150 L630,88" fill="none" stroke="#2272a9" stroke-width="6" opacity="0.55"/>
<path d="M428,302 L592,230 L522,354 L486,378 L440,388 Z" fill="#f1f1f2" stroke="#2272a9" stroke-width="10" stroke-linejoin="round"/>
<path d="M452,292 L446,372 M496,282 L478,372" fill="none" stroke="#2272a9" stroke-width="11"/>
<ellipse cx="268" cy="398" rx="74" ry="46" transform="rotate(24 268 398)" fill="#f1f1f2" stroke="#2272a9" stroke-width="9"/>
<path d="M340,62 L362,78 L380,115 L388,158 L430,166 L482,178 L470,196 L404,216 L412,228 L416,262 L396,290 L372,300 L396,312 L430,302 L446,322 L452,384 L470,388 L480,470 L500,500 L520,510 L520,600 L470,615 L455,600 L480,560 L445,520 L420,500 L400,540 L395,565 L360,560 L330,520 L290,510 L255,480 L245,450 L290,440 L336,440 L346,400 L320,370 L262,354 L215,350 L200,380 L150,370 L130,330 L120,290 L65,235 L130,215 L190,185 L215,150 L255,130 L290,90 L320,70 Z" fill="#2272a9" stroke="#2272a9" stroke-width="5" stroke-linejoin="round"/>
<ellipse cx="268" cy="240" rx="19" ry="33" transform="rotate(-12 268 240)" fill="#f1f1f2"/>
<path d="M332,170 L392,166 L436,174 L470,182 L440,194 L396,204 L350,200 Q334,190 332,170 Z" fill="#f1f1f2"/>
<path d="M322,222 Q360,208 402,232 L404,262 Q380,288 340,282 Q318,256 322,222 Z" fill="#f1f1f2"/>
<path d="M340,246 Q366,240 392,252" fill="none" stroke="#2272a9" stroke-width="8"/>
<path d="M344,468 l26,-12 M372,500 l24,-10 M146,244 l20,-8 M196,216 l16,-10" stroke="#f1f1f2" stroke-width="7" fill="none"/>
</g>
<rect x="835.3" y="86.2" width="96.2" height="57.2" rx="9" ry="9" fill="none" stroke="#2272a9" stroke-width="1.1" transform="rotate(-0.4 883 115)"/>
<g transform="rotate(-0.4 883 115)">
<rect x="844.8" y="95.4" width="76.6" height="38.6" rx="3.5" ry="3.5" fill="#0f76ab"/>
<text transform="translate(853.96 93.90) rotate(0.000) scale(0.8596 1)" font-size="6.83" font-weight="bold" fill="#2272a9">OFFICIAL LICENSEE</text>
<text transform="translate(844.63 141.60) rotate(0.000) scale(0.8068 1)" font-size="6.83" font-weight="bold" fill="#2272a9">MAJOR LEAGUE BASEBALL</text>
<g transform="translate(825 78) scale(0.12384)">
<circle cx="230" cy="381" r="22" fill="#f1f1f2"/>
<path d="M382,452 L384,392 Q388,352 418,330 L408,300 L418,262 L384,252 L408,232 Q420,186 470,178 Q528,176 548,232 L552,262 L600,290 L560,140 L596,140 L680,322 L744,360 Q770,384 748,412 L700,420 L680,452 Z" fill="#f1f1f2"/>
</g>
</g>
<g transform="rotate(-0.4 883 185)">
<path d="M845.8,148.7 L920.0,148.7 L920.0,207.6 L883.4,222.3 L845.8,207.6 Z" fill="#0f76ab" stroke="#0f76ab" stroke-width="0.8" stroke-linejoin="round"/>
<path d="M847.6,150.4 L918.2,150.4 L918.2,206.4 L883.4,220.3 L847.6,206.4 Z" fill="none" stroke="#f1f1f2" stroke-width="0.6"/>
<rect x="848.2" y="155.0" width="69.4" height="15.6" fill="#f1f1f2"/>
<text transform="translate(850.69 154.20) rotate(0.000) scale(1.1495 1)" font-size="4.07" font-weight="bold" fill="#f1f1f2">MAJOR LEAGUE BASEBALL</text>
<text transform="translate(850.09 168.40) rotate(0.000) scale(1.7531 1)" font-size="16.86" font-weight="bold" style="font-family:'Liberation Serif',serif" fill="#0f76ab" stroke="#0f76ab" stroke-width="0.8">MLB</text>
<g transform="translate(825 140) scale(0.13158)">
<circle cx="440" cy="285" r="20" fill="#f1f1f2"/>
<path d="M418,310 Q400,340 408,380 L420,398 L412,440 L400,480 L372,500 L360,540 L378,528 L392,508 L440,490 L470,440 L500,480 L530,540 L562,545 L540,520 L520,470 L480,400 L470,370 L500,345 L560,340 L664,318 L662,306 L560,324 L500,322 L468,312 Z" fill="#f1f1f2"/>
</g>
</g>
<text transform="translate(925.34 165.30) rotate(0.000) scale(0.9439 1)" font-size="22.00" font-weight="bold" fill="#2272a9">*</text>
</g>
<g fill="#ffffff">
<text transform="translate(13.57 631.00) rotate(0.000) scale(0.9832 1)" font-size="27.62" fill="#ffffff">B80K 00 0473</text>
<text transform="translate(654.55 631.00) rotate(0.000) scale(0.9820 1)" font-size="27.62" fill="#ffffff">ACTUAL IMAGE</text>
<path fill-rule="evenodd" d="M897.3,601 L929,601 C943.5,601 950,610 950,620.6 C950,631.2 943.5,640.2 929,640.2 L897.3,640.2 L897.3,635.4 L903.2,635.4 L903.2,605.8 L897.3,605.8 Z M921.8,604.6 L926.6,604.6 C929.6,609 929.6,632 926.6,636.6 L921.8,636.6 Z" fill="#b5261c" stroke="#d8862a" stroke-width="1.3" stroke-linejoin="miter"/>
<path d="M880.5,617 C888,613.5 897,611.5 905,612 C915,612.6 925,616.5 936,618 C947,619.5 958,616 969.6,610.2 L970.2,626.2 C960,631.5 948,633 936,631.5 C925,630 914,627 904,627.2 C896,627.4 888,630 881.2,633 Z" fill="#1d4f9c" stroke="#b9955a" stroke-width="1"/>
<path d="M881,619.5 C888,616 897,614 905,614.5 C915,615.1 925,619 936,620.5 C947,622 958,618.5 969.8,612.8" fill="none" stroke="#6f9bd0" stroke-width="0.9"/>
<path id="deanp" d="M883.5,627.2 C893,623.2 903,622.6 914,624.4 C926,626.6 938,629.4 950,627.6 C957,626.4 963,624 968.5,621.4" fill="none"/>
<text font-size="11.4" font-weight="bold" fill="#f6f6f2" stroke="#16295e" stroke-width="1.3" paint-order="stroke"><textPath href="#deanp" textLength="84.5" lengthAdjust="spacingAndGlyphs">DEAN’S CARDS</textPath></text>
</g>
</svg>
</body></html>
